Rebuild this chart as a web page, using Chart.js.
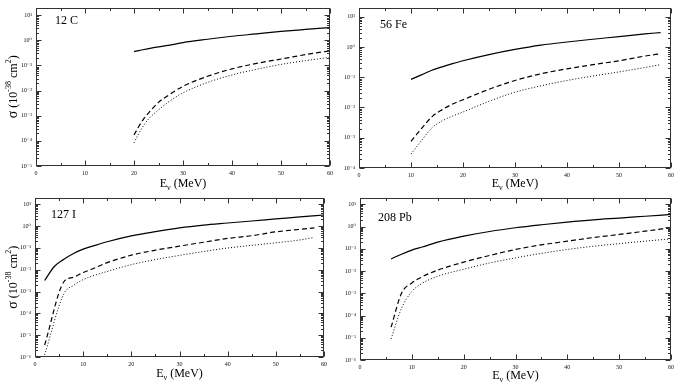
<!DOCTYPE html>
<html><head><meta charset="utf-8">
<script src="https://cdn.jsdelivr.net/npm/chart.js@4.4.1/dist/chart.umd.min.js"></script>
<style>
html,body{margin:0;padding:0;background:#fff;}
body{width:678px;height:384px;position:relative;overflow:hidden;}
canvas{position:absolute;}
</style></head><body>
<canvas id="c1" style="left:0px;top:0px;width:339px;height:190px" width="339" height="190"></canvas>
<canvas id="c2" style="left:339px;top:0px;width:339px;height:190px" width="339" height="190"></canvas>
<canvas id="c3" style="left:0px;top:190px;width:339px;height:194px" width="339" height="194"></canvas>
<canvas id="c4" style="left:339px;top:190px;width:339px;height:194px" width="339" height="194"></canvas>
<script>
// ---- data ----
const X_TICKS = [0, 10, 20, 30, 40, 50, 60];

// 12 C
const C_E      = [20, 21, 22, 23, 25, 27, 30, 35, 40, 45, 50, 55, 60];
const C_solid  = [0.36, 0.39, 0.43, 0.47, 0.55, 0.63, 0.81, 1.1, 1.45, 1.8, 2.25, 2.7, 3.2];
const C_dashed = [1.7e-4, 3.8e-4, 7.6e-4, 1.3e-3, 3.4e-3, 6.5e-3, 0.0148, 0.037, 0.073, 0.12, 0.18, 0.27, 0.38];
const C_dotted = [8.3e-5, 2.0e-4, 4.2e-4, 7.5e-4, 1.7e-3, 3.5e-3, 8.1e-3, 0.021, 0.042, 0.07, 0.11, 0.155, 0.21];

// 56 Fe
const Fe_E      = [10, 12, 14, 16, 18, 20, 25, 30, 35, 40, 45, 50, 55, 58];
const Fe_solid  = [0.085, 0.12, 0.17, 0.22, 0.28, 0.35, 0.56, 0.83, 1.15, 1.46, 1.8, 2.2, 2.7, 3.0];
const Fe_dashed = [7.6e-4, 2.0e-3, 4.9e-3, 8.5e-3, 0.013, 0.018, 0.04, 0.078, 0.13, 0.19, 0.26, 0.35, 0.5, 0.6];
const Fe_dotted = [2.9e-4, 8e-4, 2.1e-3, 3.6e-3, 5.2e-3, 7.1e-3, 0.016, 0.032, 0.052, 0.078, 0.11, 0.15, 0.21, 0.26];

// 127 I
const I_E_solid = [2, 4, 6, 8, 10, 12, 15, 20, 25, 30, 35, 40, 45, 50, 55, 60];
const I_solid   = [3.2e-3, 0.014, 0.030, 0.055, 0.087, 0.12, 0.19, 0.35, 0.55, 0.82, 1.1, 1.37, 1.7, 2.1, 2.6, 3.2];
const I_E_other = [2, 6, 8, 10, 12, 15, 20, 25, 30, 35, 40, 45, 50, 55, 58];
const I_dashed  = [3.5e-6, 2.8e-3, 4.5e-3, 7.4e-3, 0.011, 0.021, 0.046, 0.078, 0.12, 0.18, 0.27, 0.36, 0.54, 0.7, 0.82];
const I_dotted  = [1.26e-6, 8e-4, 1.9e-3, 3.5e-3, 5.2e-3, 8.3e-3, 0.017, 0.029, 0.045, 0.068, 0.098, 0.13, 0.17, 0.23, 0.30];

// 208 Pb
const Pb_E      = [6, 8, 10, 12, 15, 20, 25, 30, 35, 40, 45, 50, 55, 60];
const Pb_solid  = [0.035, 0.057, 0.087, 0.12, 0.20, 0.37, 0.6, 0.88, 1.2, 1.58, 2.0, 2.4, 2.9, 3.5];
const Pb_dashed = [3e-5, 1e-3, 2.9e-3, 5.5e-3, 0.011, 0.025, 0.05, 0.093, 0.15, 0.22, 0.32, 0.44, 0.62, 0.88];
const Pb_dotted = [8.9e-6, 2.1e-4, 1.2e-3, 2.8e-3, 5.8e-3, 0.012, 0.023, 0.039, 0.062, 0.093, 0.13, 0.17, 0.22, 0.28];

// ---- helpers ----
const SERIF = '"Liberation Serif", "DejaVu Serif", serif';
const SUP = {'-':'\u207B','0':'\u2070','1':'\u00B9','2':'\u00B2','3':'\u00B3','4':'\u2074','5':'\u2075','6':'\u2076','7':'\u2077','8':'\u2078','9':'\u2079'};
function powLabel(v){
  const e = Math.round(Math.log10(v));
  return '10' + String(e).split('').map(c => SUP[c]).join('');
}
function drawRich(ctx, segs, x, y){
  let w = 0;
  segs.forEach(s => { ctx.font = s.size + 'px ' + SERIF; s.w = ctx.measureText(s.t).width; w += s.w; });
  let cx = x - w / 2;
  segs.forEach(s => {
    ctx.font = s.size + 'px ' + SERIF;
    ctx.fillText(s.t, cx, y + (s.dy || 0));
    cx += s.w;
  });
}

const framePlugin = {
  id: 'frame',
  afterDraw(chart, args, o) {
    const {ctx, chartArea: a} = chart;
    const xs = chart.scales.x, ys = chart.scales.y;
    ctx.save();
    const L = Math.round(a.left) + 0.5, R = Math.round(a.right) - 0.5;
    const T = Math.round(a.top) + 0.5, B = Math.round(a.bottom) - 0.5;
    ctx.strokeStyle = '#333';
    ctx.lineWidth = 1;
    ctx.strokeRect(L, T, R - L, B - T);
    ctx.beginPath();
    for (let v = 0; v <= 60; v += 5) {
      const px = Math.round(xs.getPixelForValue(v)) + 0.5;
      const len = v % 10 === 0 ? 5 : 2.5;
      ctx.moveTo(px, B); ctx.lineTo(px, B - len);
      ctx.moveTo(px, T); ctx.lineTo(px, T + len);
    }
    const k0 = Math.floor(Math.log10(ys.min)), k1 = Math.ceil(Math.log10(ys.max));
    for (let k = k0; k <= k1; k++) {
      for (let m = 1; m <= 9; m++) {
        const v = m * Math.pow(10, k);
        if (v < ys.min * 0.999 || v > ys.max) continue;
        const py = Math.round(ys.getPixelForValue(v)) + 0.5;
        const len = m === 1 ? 5 : 2.5;
        ctx.moveTo(L, py); ctx.lineTo(L + len, py);
        ctx.moveTo(R, py); ctx.lineTo(R - len, py);
      }
    }
    ctx.stroke();

    ctx.fillStyle = '#000';
    ctx.textBaseline = 'alphabetic';
    // panel label
    ctx.font = '12px ' + SERIF;
    ctx.textAlign = 'left';
    ctx.fillText(o.label, o.lx, o.ly);
    // x title: E_nu (MeV)
    ctx.textAlign = 'left';
    drawRich(ctx, [
      {t: 'E', size: 12},
      {t: '\u03BD', size: 8, dy: 3},
      {t: ' (MeV)', size: 12}
    ], (a.left + a.right) / 2, a.bottom + o.xtY);
    // y title
    if (o.ytitle) {
      ctx.save();
      ctx.translate(o.ytX, (a.top + a.bottom) / 2);
      ctx.rotate(-Math.PI / 2);
      drawRich(ctx, [
        {t: '\u03C3', size: 14},
        {t: ' (10', size: 12},
        {t: '-38', size: 8, dy: -6},
        {t: ' cm', size: 12},
        {t: '2', size: 8, dy: -6},
        {t: ')', size: 12}
      ], 0, 4);
      ctx.restore();
    }
    ctx.restore();
  }
};

function ds(E, v, dash, w) {
  return {
    data: E.map((e, i) => ({x: e, y: v[i]})),
    borderColor: '#000', borderWidth: w, borderDash: dash,
    pointRadius: 0, cubicInterpolationMode: 'monotone', fill: false
  };
}

function makeChart(id, cfg) {
  new Chart(document.getElementById(id), {
    type: 'line',
    data: {datasets: cfg.datasets},
    options: {
      responsive: false, animation: false, events: [],
      layout: {padding: {top: cfg.padTop, right: cfg.padRight, left: 0, bottom: 0}},
      plugins: {
        legend: {display: false}, tooltip: {enabled: false},
        frame: {label: cfg.label, lx: cfg.lx, ly: cfg.ly, xtY: cfg.xtY, ytitle: cfg.ytitle, ytX: 13}
      },
      scales: {
        x: {
          type: 'linear', min: 0, max: 60,
          grid: {display: false, drawTicks: false}, border: {display: false},
          ticks: {font: {family: SERIF, size: 6}, color: '#111', padding: 4, maxRotation: 0, autoSkip: false},
          afterBuildTicks(s) { s.ticks = X_TICKS.map(v => ({value: v})); },
          afterFit(s) { s.height = cfg.xH; }
        },
        y: {
          type: 'logarithmic', min: cfg.ymin, max: 20,
          grid: {display: false, drawTicks: false}, border: {display: false},
          ticks: {font: {family: SERIF, size: 6}, color: '#111', padding: 4, autoSkip: false, callback: v => powLabel(v)},
          afterBuildTicks(s) {
            const t = [];
            for (let k = Math.round(Math.log10(cfg.ymin)); k <= 1; k++) t.push({value: Math.pow(10, k)});
            s.ticks = t;
          },
          afterFit(s) { s.width = cfg.yW; }
        }
      }
    },
    plugins: [framePlugin]
  });
}

const SOLID = [], DASH = [5, 3], DOT = [1, 2];

makeChart('c1', {
  datasets: [ds(C_E, C_solid, SOLID, 1.2), ds(C_E, C_dashed, DASH, 1.2), ds(C_E, C_dotted, DOT, 1)],
  ymin: 1e-5, yW: 36, padRight: 9, padTop: 2, xH: 24,
  label: '12 C', lx: 55, ly: 24, xtY: 21, ytitle: true
});
makeChart('c2', {
  datasets: [ds(Fe_E, Fe_solid, SOLID, 1.2), ds(Fe_E, Fe_dashed, DASH, 1.2), ds(Fe_E, Fe_dotted, DOT, 1)],
  ymin: 1e-4, yW: 20, padRight: 6, padTop: 2, xH: 22,
  label: '56 Fe', lx: 41, ly: 28, xtY: 19, ytitle: false
});
makeChart('c3', {
  datasets: [ds(I_E_solid, I_solid, SOLID, 1.2), ds(I_E_other, I_dashed, DASH, 1.2), ds(I_E_other, I_dotted, DOT, 1)],
  ymin: 1e-6, yW: 35, padRight: 15, padTop: 4, xH: 27,
  label: '127 I', lx: 51, ly: 28, xtY: 20, ytitle: true
});
makeChart('c4', {
  datasets: [ds(Pb_E, Pb_solid, SOLID, 1.2), ds(Pb_E, Pb_dashed, DASH, 1.2), ds(Pb_E, Pb_dotted, DOT, 1)],
  ymin: 1e-6, yW: 21, padRight: 6, padTop: 7, xH: 24,
  label: '208 Pb', lx: 39, ly: 31, xtY: 19, ytitle: false
});
</script>
</body></html>
